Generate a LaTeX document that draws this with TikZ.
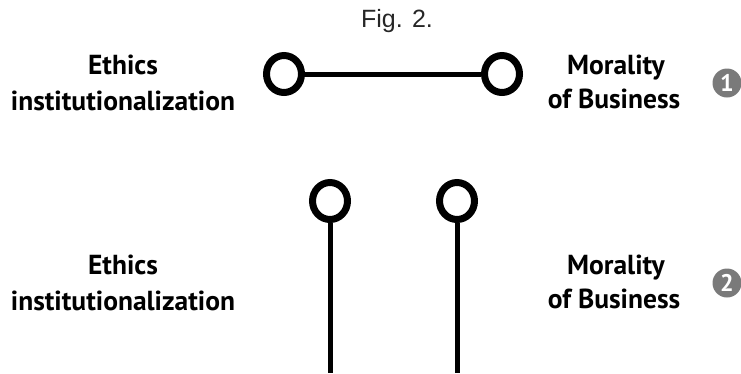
\documentclass[tikz,border=0pt]{standalone}
\usepackage{fontspec}
\setmainfont{PT Sans}
\newfontfamily\captionfont{Liberation Sans}
\usetikzlibrary{shapes.geometric}
\definecolor{badgegray}{HTML}{7A7A7A}
\tikzset{
  pin/.style={ellipse, draw, line width=7pt, minimum width=35pt, minimum height=37pt, inner sep=0pt},
  stem/.style={line width=5pt},
  lbl/.style={font=\bfseries\fontsize{27.5}{33}\selectfont, anchor=base, inner sep=0pt},
  badge/.style={circle, fill=badgegray, text=white, minimum size=29pt, inner sep=0pt,
                font=\bfseries\fontsize{24}{24}\selectfont}
}
\begin{document}
\begin{tikzpicture}[x=1pt,y=-1pt]
\useasboundingbox (0,0) rectangle (741,373);

% caption
\node[font=\captionfont\fontsize{25}{25}\selectfont, text=black!85, anchor=base] (cap) at (397,27) {Fig. 2.};

% case 1: the two pins joined
\node[lbl] (eth1a) at (123,74) {Ethics};
\node[lbl] (eth1b) at (123,110) {institutionalization};
\node[pin] (p1l) at (284,74) {};
\node[pin] (p1r) at (502,74) {};
\draw[stem] (p1l.east) -- (p1r.west);
\node[lbl] (mor1a) at (616,74) {Morality};
\node[lbl] (mor1b) at (614,108) {of Business};
\node[badge] (b1) at (727,83) {1};

% case 2: the two pins standing apart
\coordinate (g2l) at (330,373);
\coordinate (g2r) at (457,373);
\node[lbl] (eth2a) at (123,274) {Ethics};
\node[lbl] (eth2b) at (123,310) {institutionalization};
\node[pin] (p2l) at (330,201) {};
\node[pin] (p2r) at (457,201) {};
\draw[stem] (p2l.south) -- (g2l);
\draw[stem] (p2r.south) -- (g2r);
\node[lbl] (mor2a) at (616,274) {Morality};
\node[lbl] (mor2b) at (614,308) {of Business};
\node[badge] (b2) at (727,283) {2};
\end{tikzpicture}
\end{document}
